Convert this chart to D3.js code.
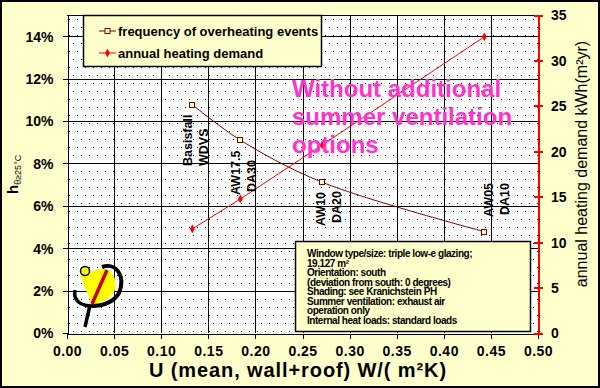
<!DOCTYPE html>
<html><head><meta charset="utf-8">
<script src="https://cdn.jsdelivr.net/npm/d3@7"></script>
<style>
html,body{margin:0;padding:0;background:#FFFFCC;}
svg{display:block;font-family:"Liberation Sans",Arial,sans-serif;}
</style></head>
<body>
<svg id="chart" width="600" height="388"></svg>
<script>
// ---- data ----
const uValues = [0.133, 0.184, 0.271, 0.443];
const overheating = [0.1077, 0.0910, 0.0711, 0.0478];
const heatingDemand = [11.45, 14.75, 20.7, 32.6];
const pointLabels = [["Basisfall","WDVS"],["AW17.5","DA30"],["AW10","DA20"],["AW05","DA10"]];
const xTicks = [0,0.05,0.10,0.15,0.20,0.25,0.30,0.35,0.40,0.45,0.50];
const leftTicks = [0,0.02,0.04,0.06,0.08,0.10,0.12,0.14];
const rightTicks = [0,5,10,15,20,25,30,35];
const seriesNames = ["frequency of overheating events","annual heating demand"];
const noteLines = ["Window type/size: triple low-e glazing;","19.127 m²","Orientation: south",
  "(deviation from south: 0 degrees)","Shading: see Kranichstein PH","Summer ventilation: exhaust air",
  "operation only","Internal heat loads: standard loads"];
const bigNote = ["Without additional","summer ventilation","options"];

// ---- layout ----
const svg = d3.select("#chart");
const L = 67, R = 538, T = 15, B = 333;
const x = d3.scaleLinear().domain([0,0.5]).range([L,R]);
const yL = d3.scaleLinear().domain([0,0.15]).range([B,T]);
const yR = d3.scaleLinear().domain([0,35]).range([B,T]);
const darkRed = "#800000", red = "#FF0000";

svg.append("rect").attr("x",0).attr("y",0).attr("width",600).attr("height",388).attr("fill","#FFFFCC");

// dotted pattern
const defs = svg.append("defs");
const pat = defs.append("pattern").attr("id","dots").attr("patternUnits","userSpaceOnUse")
  .attr("width",8).attr("height",16).attr("x",L).attr("y",T);
pat.append("rect").attr("width",8).attr("height",16).attr("fill","#FFFFFF");
pat.append("rect").attr("x",2).attr("y",4).attr("width",1).attr("height",1).attr("fill","#000");
pat.append("rect").attr("x",6).attr("y",12).attr("width",1).attr("height",1).attr("fill","#000");
svg.append("rect").attr("x",L).attr("y",T).attr("width",R-L).attr("height",B-T).attr("fill","url(#dots)");

// gridlines
const g = svg.append("g").attr("shape-rendering","crispEdges");
g.selectAll(".vg").data(xTicks.slice(1,-1)).join("line")
  .attr("x1",d=>Math.round(x(d))+0.5).attr("x2",d=>Math.round(x(d))+0.5).attr("y1",T).attr("y2",B).attr("stroke","#000");
g.selectAll(".hg").data(leftTicks.slice(1)).join("line")
  .attr("y1",d=>Math.round(yL(d))+0.5).attr("y2",d=>Math.round(yL(d))+0.5).attr("x1",L).attr("x2",R).attr("stroke","#000");
g.append("line").attr("x1",L).attr("x2",R).attr("y1",T+0.5).attr("y2",T+0.5).attr("stroke","#000");

// axes
const axL = svg.append("g").attr("transform",`translate(${L+0.5},0)`)
  .call(d3.axisLeft(yL).tickValues(leftTicks).tickFormat(d3.format(".0%")).tickSize(5).tickSizeOuter(0));
const axB = svg.append("g").attr("transform",`translate(0,${B+0.5})`)
  .call(d3.axisBottom(x).tickValues(xTicks).tickFormat(d3.format(".2f")).tickSize(5).tickSizeOuter(0));
const axR = svg.append("g").attr("transform",`translate(${R},0)`)
  .call(d3.axisRight(yR).tickValues(rightTicks).tickFormat(d3.format("d")).tickSize(5).tickSizeOuter(0));
[axL,axB,axR].forEach(a=>{a.attr("shape-rendering","crispEdges");
  a.selectAll("text").attr("font-size",14).attr("font-weight","bold").attr("fill","#000")
   .attr("font-family","'Liberation Sans',Arial,sans-serif");});
axL.select(".domain").attr("stroke","#000");
axL.selectAll(".tick line").attr("stroke","#000");
axL.selectAll("text").attr("x",-14).attr("dy","0.35em");
axB.selectAll("text").attr("y",13).attr("dy","0.71em").attr("letter-spacing","0.5px");
axR.select(".domain").attr("stroke",red).attr("stroke-width",2);
axR.selectAll(".tick line").attr("stroke",red).attr("stroke-width",2).attr("x1",-4).attr("x2",5);
axR.selectAll("text").attr("x",13).attr("dy","0.35em");

// series
const curve = d3.curveCatmullRom.alpha(0.5);
const ptsO = uValues.map((u,i)=>[x(u),yL(overheating[i])]);
const ptsH = uValues.map((u,i)=>[x(u),yR(heatingDemand[i])]);
svg.append("path").attr("d",d3.line().curve(curve)(ptsO)).attr("fill","none").attr("stroke",darkRed).attr("stroke-width",1);
svg.append("path").attr("d",d3.line()(ptsH)).attr("fill","none").attr("stroke",red).attr("stroke-width",1);
svg.selectAll(".mo").data(ptsO).join("rect").attr("x",d=>Math.round(d[0])-2.5).attr("y",d=>Math.round(d[1])-2.5)
  .attr("width",5).attr("height",5).attr("fill","#FFFFCC").attr("stroke",darkRed).attr("stroke-width",1);
const diamond = d3.symbol().type(d3.symbolDiamond).size(22);
svg.selectAll(".mh").data(ptsH).join("path").attr("d",diamond).attr("transform",d=>`translate(${d[0]},${d[1]})`).attr("fill",red);

// rotated point labels
const labelPos = [[0,166,166],[0,195,192],[3,226,223],[9,217,215]];
pointLabels.forEach((lines,i)=>{
  lines.forEach((t,j)=>{
    const bx = x(uValues[i]) + labelPos[i][0] + j*15.5;
    const by = labelPos[i][1+j];
    svg.append("text").attr("transform",`translate(${bx},${by}) rotate(-90)`)
      .attr("font-size",12.5).attr("font-weight","bold").attr("fill","#000").text(t);
  });
});

// big pink note
bigNote.forEach((t,i)=>{
  svg.append("text").attr("x",292).attr("y",97+i*28).attr("font-size",24).attr("font-weight","bold")
    .attr("fill","#FF33CC").text(t);
});

// info box
svg.append("rect").attr("x",295.5).attr("y",241.5).attr("width",235).attr("height",90)
  .attr("fill","#FFFFCC").attr("stroke","#000").attr("stroke-width",1.5);
noteLines.forEach((t,i)=>{
  svg.append("text").attr("x",307).attr("y",257+i*9.5).attr("font-size",10).attr("font-weight","bold")
    .attr("letter-spacing","-0.45px").attr("fill","#000").text(t);
});

// legend
svg.append("rect").attr("x",83.5).attr("y",15.5).attr("width",238).attr("height",51)
  .attr("fill","#FFFFCC").attr("stroke","#000").attr("stroke-width",1.5);
[[darkRed,"sq"],[red,"dm"]].forEach((s,i)=>{
  const cy = 31 + i*22;
  svg.append("line").attr("x1",99).attr("x2",116).attr("y1",cy).attr("y2",cy).attr("stroke",s[0]);
  if(s[1]==="sq") svg.append("rect").attr("x",105).attr("y",cy-2.5).attr("width",5).attr("height",5)
     .attr("fill","#FFFFCC").attr("stroke",s[0]);
  else svg.append("path").attr("d",diamond).attr("transform",`translate(107.5,${cy})`).attr("fill",s[0]);
  svg.append("text").attr("x",118).attr("y",cy+4.5).attr("font-size",13).attr("font-weight","bold").attr("fill","#000").text(seriesNames[i]);
});

// axis titles
svg.append("text").attr("x",298).attr("y",377).attr("text-anchor","middle").attr("font-size",20)
  .attr("font-weight","bold").attr("letter-spacing","0.9px").attr("fill","#000").text("U (mean, wall+roof) W/( m²K)");
svg.append("text").attr("transform","translate(587,164) rotate(-90)").attr("text-anchor","middle")
  .attr("font-size",16).attr("fill","#000").text("annual heating demand kWh(m²yr)");
const lt = svg.append("text").attr("transform","translate(18,194) rotate(-90)").attr("fill","#000");
lt.append("tspan").attr("font-size",15).attr("font-weight","bold").text("h");
lt.append("tspan").attr("font-size",9).attr("dy",3).text("θ≥25°C");

// logo
const logo = svg.append("g");
logo.append("path").attr("d","M80,274 L104,268 Q118,273 115,290 Q109,302 92,305 Z").attr("fill","#FFFF00");
logo.append("path").attr("d","M102,267 C116,262 126,276 119,293 C114,302 103,306 92,306").attr("fill","none").attr("stroke","#000").attr("stroke-width",4);
logo.append("path").attr("d","M75,290 C73,300 80,306 92,306").attr("fill","none").attr("stroke","#000").attr("stroke-width",3.5);
logo.append("path").attr("d","M90,305 L85,327").attr("fill","none").attr("stroke","#000").attr("stroke-width",3.5);
logo.append("path").attr("d","M107,270 L92,304").attr("fill","none").attr("stroke","#CC0000").attr("stroke-width",3.5);
logo.append("circle").attr("cx",85).attr("cy",271).attr("r",4.5).attr("fill","#FFFF00").attr("stroke","#000").attr("stroke-width",1.5);

// frame
svg.append("rect").attr("x",1).attr("y",1).attr("width",598).attr("height",386).attr("fill","none").attr("stroke","#000").attr("stroke-width",2);
</script>
</body></html>
